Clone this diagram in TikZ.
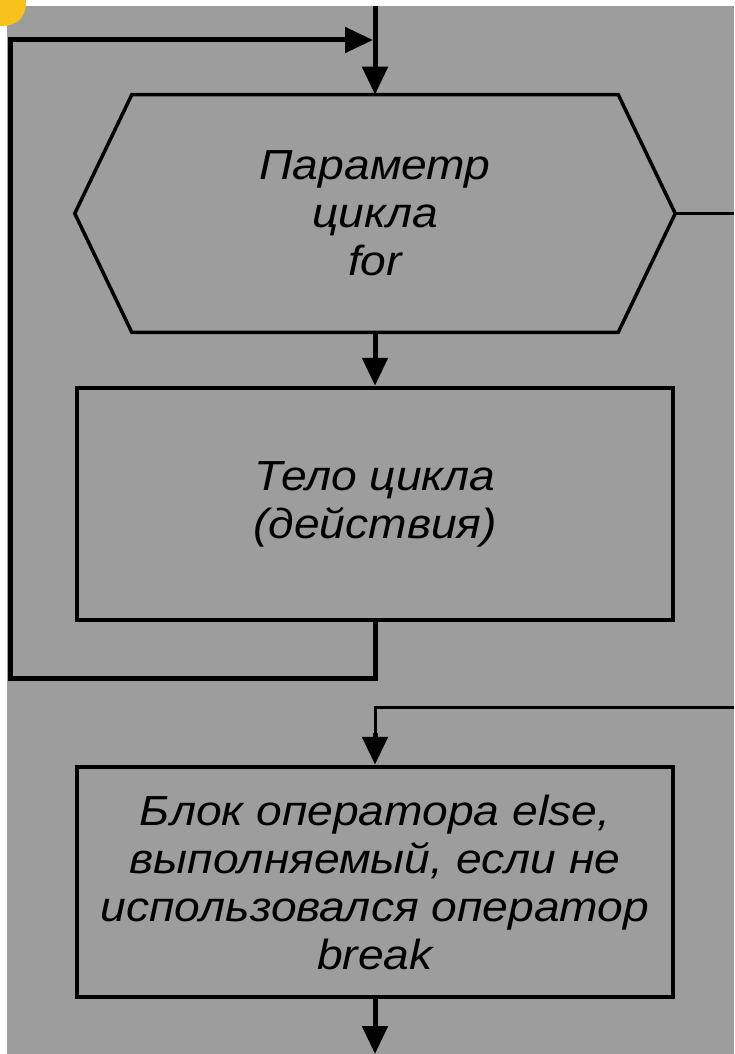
\documentclass[tikz,border=0pt]{standalone}
\usepackage{fontspec}
\setmainfont{Liberation Sans}[FakeStretch=1.1]
\usetikzlibrary{arrows.meta,calc}
\definecolor{bggray}{RGB}{157,157,157}
\definecolor{corner}{RGB}{247,194,26}
\tikzset{
  box/.style={draw=black, line width=4.5pt, minimum width=596pt, inner sep=0pt, align=center,
    font=\fontsize{42pt}{48pt}\selectfont\itshape},
  conn/.style={draw=black, line width=5pt},
  thinconn/.style={draw=black, line width=3pt},
  tip/.style={-{Triangle[length=28pt,width=25pt]}}
}
\begin{document}
\begin{tikzpicture}[x=1pt,y=-1pt]
\useasboundingbox (0,0) rectangle (734,1054);
\fill[white] (0,0) rectangle (734,1054);
\fill[bggray] (7,6) rectangle (734,1054);
\fill[corner] (0,0) -- (26,0) .. controls (26,18) and (18,26) .. (0,26) -- cycle;

% hexagon (loop parameter)
\node[box, draw=none, minimum width=482pt, minimum height=233pt] (hex) at (375,213.5) {Параметр\\цикла\\for};
\coordinate (hexL) at ($(hex.west)+(-57,0)$);
\coordinate (hexR) at ($(hex.east)+(57,0)$);
\draw[line width=3.5pt, line join=miter] (hex.north west) -- (hex.north east) -- (hexR) -- (hex.south east) -- (hex.south west) -- (hexL) -- cycle;

% body
\node[box, minimum height=232pt] (body) at (375,504) {Тело цикла\\(действия)};

% else block
\node[box, minimum height=230pt] (else) at (375,882) {Блок оператора else,\\выполняемый, если не\\использовался оператор\\break};

% coordinates for free ends
\coordinate (top) at (375,6);
\coordinate (lb) at (10,678);
\coordinate (lt) at (10,40);
\coordinate (tj) at (373,40);
\coordinate (rightA) at (734,213.5);
\coordinate (rightB) at (734,707);
\coordinate (bot) at (375,1054);

% connectors
\draw[conn, tip] (top) -- (hex.north);
\draw[conn, tip] (hex.south) -- (body.north);
\draw[conn, tip, line join=miter] (body.south) |- (lb) -- (lt) -- (tj);
\draw[thinconn] (hexR) -- (rightA);
\draw[thinconn] (rightB) -| ($(else.north)+(0,-30)$);
\draw[conn, tip] ($(else.north)+(0,-32)$) -- (else.north);
\draw[conn, tip] (else.south) -- (bot);
\end{tikzpicture}
\end{document}
